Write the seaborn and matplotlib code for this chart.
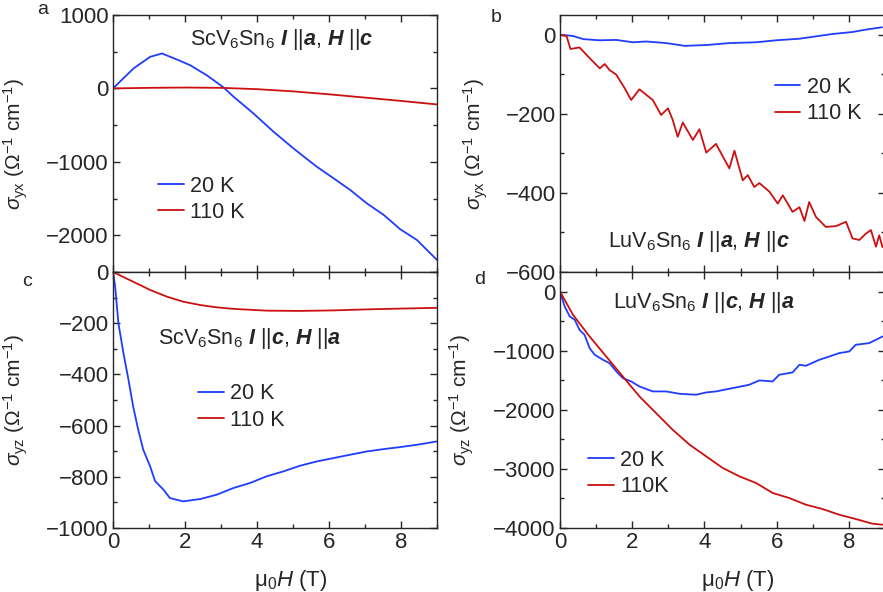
import numpy as np
import pandas as pd
import matplotlib
matplotlib.use("Agg")
import matplotlib.pyplot as plt
from matplotlib.ticker import MultipleLocator
import seaborn as sns

# ---- data ----
# (a) ScV6Sn6 sigma_yx
a_h_20 = [0, 0.57, 1.03, 1.36, 1.77, 2.14, 2.6, 3.07, 3.35, 3.9, 4.46, 5.01, 5.66,
          6.13, 6.59, 7.05, 7.52, 7.98, 8.44, 9.0]
a_s_20 = [0, 272, 430, 476, 395, 317, 181, 14, -113, -340, -590, -816, -1066,
          -1225, -1383, -1565, -1723, -1918, -2063, -2336]
a_h_110 = [0, 1, 2, 3, 4, 5, 6, 7, 8, 9]
a_s_110 = [0, 8, 12, 8, -10, -40, -80, -125, -170, -218]

# (b) LuV6Sn6 sigma_yx
b_h_20 = [0, 0.36, 0.64, 1.10, 1.56, 2.02, 2.39, 2.94, 3.45, 4.05, 4.69, 5.43, 5.98,
          6.63, 7.09, 7.55, 8.10, 8.47, 8.92]
b_s_20 = [0, -3, -11, -14, -13, -19, -17, -21, -28, -26, -21, -19, -14,
          -10, -4, 2, 7, 13, 19]
b_h_110 = [0, 0.18, 0.29, 0.54, 0.82, 1.10, 1.24, 1.37, 1.56, 1.79, 1.97, 2.20, 2.39,
           2.57, 2.80, 2.99, 3.12, 3.26, 3.40, 3.68, 3.86, 4.05, 4.32, 4.51, 4.69,
           4.83, 5.06, 5.20, 5.38, 5.52, 5.80, 6.03, 6.17, 6.44, 6.63, 6.77, 6.90,
           7.09, 7.36, 7.64, 7.92, 8.10, 8.29, 8.47, 8.61, 8.75, 8.84, 8.93]
b_s_110 = [0, -3, -36, -32, -59, -85, -74, -89, -101, -135, -165, -138, -152,
           -165, -203, -186, -215, -258, -222, -266, -239, -298, -276, -308, -338,
           -293, -368, -355, -385, -375, -397, -427, -406, -448, -436, -471, -423,
           -461, -486, -484, -473, -515, -519, -503, -494, -536, -507, -537]

# (c) ScV6Sn6 sigma_yz
c_h_20 = [0, 0.06, 0.15, 0.29, 0.43, 0.56, 0.70, 0.84, 1.03, 1.17, 1.40, 1.58, 1.95,
          2.42, 2.88, 3.34, 3.81, 4.27, 4.73, 5.19, 5.66, 6.12, 6.58, 7.05, 7.51,
          7.97, 8.44, 8.99]
c_s_20 = [0, -57, -200, -317, -421, -525, -616, -694, -759, -817, -850, -883, -896,
          -887, -870, -844, -824, -798, -779, -757, -740, -727, -714, -701, -692,
          -684, -675, -662]
c_h_110 = [0, 0.56, 1.03, 1.49, 1.95, 2.42, 2.88, 3.34, 4.27, 5.19, 6.12, 7.05, 7.97, 8.99]
c_s_110 = [0, -38, -70, -96, -116, -129, -138, -144, -151, -152, -150, -146, -143, -140]

# (d) LuV6Sn6 sigma_yz
d_h_20 = [0, 0.13, 0.27, 0.41, 0.54, 0.68, 0.82, 0.96, 1.19, 1.37, 1.56, 1.74, 1.97,
          2.20, 2.57, 2.94, 3.31, 3.77, 4.05, 4.32, 4.78, 5.24, 5.52, 5.89, 6.07,
          6.44, 6.63, 6.81, 7.18, 7.46, 7.73, 8.01, 8.19, 8.56, 8.75, 8.93]
d_s_20 = [0, -253, -422, -479, -648, -732, -958, -1070, -1155, -1211, -1352, -1465,
          -1521, -1606, -1690, -1690, -1730, -1746, -1707, -1690, -1634, -1577, -1504,
          -1521, -1408, -1369, -1239, -1256, -1155, -1099, -1042, -1014, -901, -873,
          -817, -761]
d_h_110 = [0, 0.36, 0.82, 1.28, 1.74, 2.20, 2.66, 3.12, 3.59, 4.05, 4.51, 4.97, 5.43,
           5.89, 6.35, 6.81, 7.27, 7.73, 8.19, 8.65, 8.93]
d_s_110 = [0, -394, -761, -1099, -1437, -1775, -2056, -2338, -2592, -2789, -2986,
           -3127, -3239, -3408, -3493, -3606, -3679, -3775, -3848, -3927, -3944]

blue = '#1f3cff'
red = '#cc1010'

sns.set_style("ticks")
plt.rcParams['font.family'] = ['Liberation Sans', 'DejaVu Sans']
plt.rcParams['mathtext.fontset'] = 'custom'
plt.rcParams['mathtext.rm'] = 'Liberation Sans'
plt.rcParams['mathtext.it'] = 'Liberation Sans:italic'
plt.rcParams['mathtext.bf'] = 'Liberation Sans:bold'
plt.rcParams['mathtext.bfit'] = 'Liberation Sans:bold:italic'
plt.rcParams['font.size'] = 15

fig = plt.figure(figsize=(8.83, 5.92), dpi=100)
W, H = 883, 592


def add_ax(l, r, t, b):
    return fig.add_axes([l / W, 1 - b / H, (r - l) / W, (b - t) / H])


ax_a = add_ax(113, 437, 15, 272)
ax_b = add_ax(560, 885, 15, 272)
ax_c = add_ax(113, 437, 272, 528)
ax_d = add_ax(560, 885, 272, 528)

ylab_yx = r'$\sigma_{\mathrm{yx}}$ ($\mathrm{\Omega}^{-1}$ cm$^{-1}$)'
ylab_yz = r'$\sigma_{\mathrm{yz}}$ ($\mathrm{\Omega}^{-1}$ cm$^{-1}$)'

panels = [
    (ax_a, a_h_20, a_s_20, a_h_110, a_s_110, '110 K', (-2500, 1000), 1000, 500,
     r'ScV$_6$Sn$_6$ $\mathbfit{I}$ ||$\mathbfit{a}$, $\mathbfit{H}$ ||$\mathbfit{c}$',
     (0.238, 0.903), (0.139, 0.375), ylab_yx, -0.256, 'a', (43, 9)),
    (ax_b, b_h_20, b_s_20, b_h_110, b_s_110, '110 K', (-600, 50), 200, 100,
     r'LuV$_6$Sn$_6$ $\mathbfit{I}$ ||$\mathbfit{a}$, $\mathbfit{H}$ ||$\mathbfit{c}$',
     (0.148, 0.117), (0.66, 0.76), ylab_yx, -0.215, 'b', (496, 17)),
    (ax_c, c_h_20, c_s_20, c_h_110, c_s_110, '110 K', (-1000, 0), 200, 100,
     r'ScV$_6$Sn$_6$ $\mathbfit{I}$ ||$\mathbfit{c}$, $\mathbfit{H}$ ||$\mathbfit{a}$',
     (0.139, 0.742), (0.262, 0.565), ylab_yz, -0.256, 'c', (27, 282)),
    (ax_d, d_h_20, d_s_20, d_h_110, d_s_110, '110K', (-4000, 330), 1000, 500,
     r'LuV$_6$Sn$_6$ $\mathbfit{I}$ ||$\mathbfit{c}$, $\mathbfit{H}$ ||$\mathbfit{a}$',
     (0.163, 0.879), (0.086, 0.305), ylab_yz, -0.26, 'd', (480, 279)),
]

for (ax, h20, s20, h110, s110, lab110, ylim, major, minor, note, note_xy,
     leg_xy, ylab, ylab_x, letter, letter_xy) in panels:
    sns.lineplot(x=h20, y=s20, color=blue, lw=1.3, label='20 K', ax=ax, estimator=None)
    sns.lineplot(x=h110, y=s110, color=red, lw=1.3, label=lab110, ax=ax, estimator=None)
    ax.set_xlim(0, 9)
    ax.set_ylim(*ylim)
    ax.xaxis.set_major_locator(MultipleLocator(2))
    ax.xaxis.set_minor_locator(MultipleLocator(1))
    ax.yaxis.set_major_locator(MultipleLocator(major))
    ax.yaxis.set_minor_locator(MultipleLocator(minor))
    ax.tick_params(which='both', direction='in', top=True, right=True, labelsize=16,
                   width=1, pad=3)
    ax.tick_params(which='major', length=5)
    ax.tick_params(which='minor', length=3)
    for sp in ax.spines.values():
        sp.set_linewidth(1)
    ax.set_ylabel(ylab, fontsize=15)
    ax.yaxis.set_label_coords(ylab_x, 0.5)
    ax.text(note_xy[0], note_xy[1], note, transform=ax.transAxes, fontsize=15.5,
            va='center', ha='left')
    ax.legend(loc='upper left', bbox_to_anchor=leg_xy, frameon=False, fontsize=15.5,
              handlelength=1.2, handletextpad=0.3, labelspacing=0.25,
              borderpad=0, borderaxespad=0)
    fig.text(letter_xy[0] / W, 1 - letter_xy[1] / H, letter, fontsize=14,
             ha='center', va='center')

for ax in (ax_a, ax_b):
    ax.set_xlabel('')
    ax.tick_params(labelbottom=False)

ax_c.set_xlabel(r'$\mathrm{\mu}_0H$ (T)', fontsize=16)
ax_c.xaxis.set_label_coords(0.55, -0.155)
ax_d.set_xlabel(r'$\mathrm{\mu}_0H$ (T)', fontsize=16)
ax_d.xaxis.set_label_coords(0.546, -0.155)

fig.savefig('out.png', dpi=100)
